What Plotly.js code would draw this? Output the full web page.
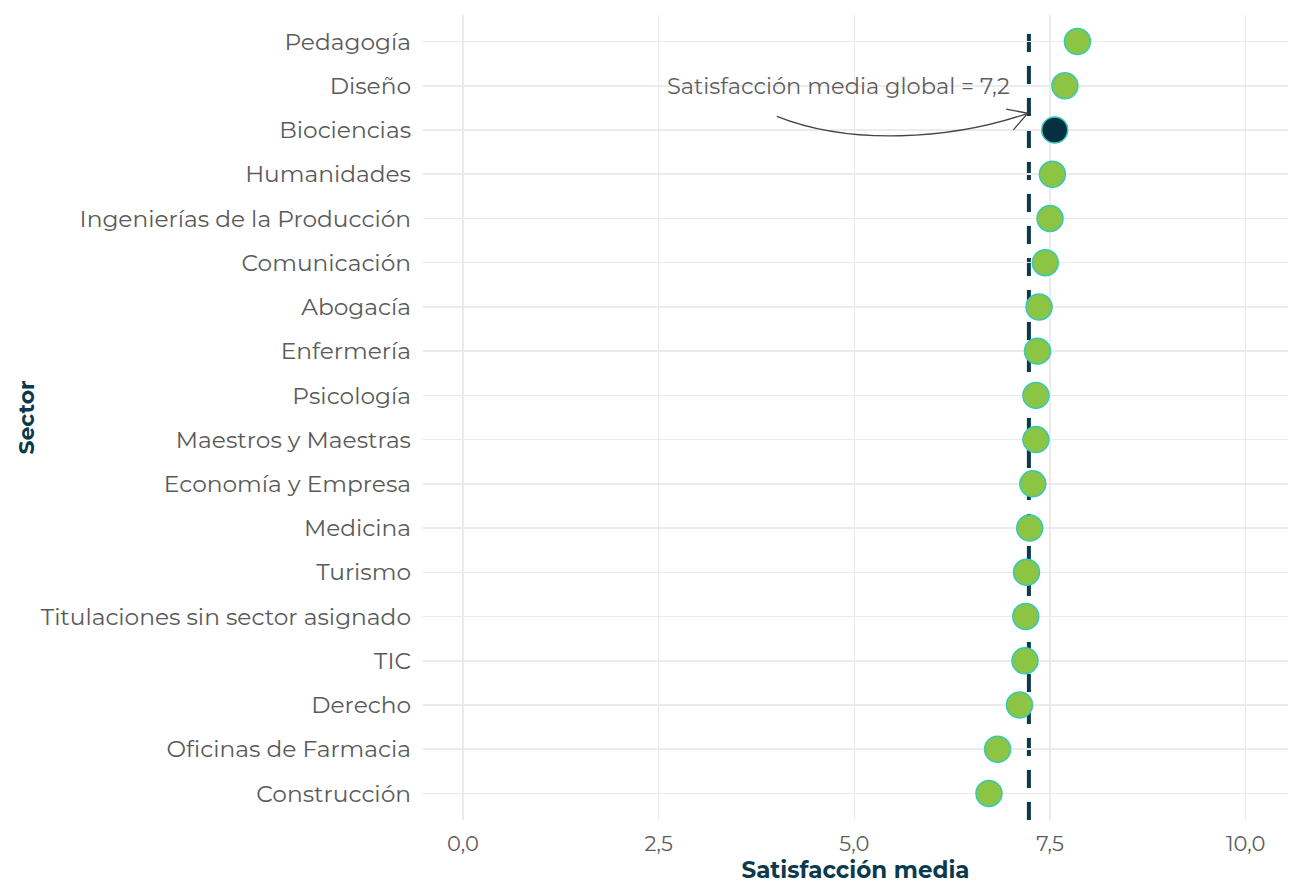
<!DOCTYPE html>
<html>
<head>
<meta charset="utf-8">
<script src="https://cdn.plot.ly/plotly-3.0.1.min.js"></script>
<style>html,body{margin:0;padding:0;background:#fff;}#chart{width:1289px;height:884px;}</style>
</head>
<body>
<div id="chart"></div>
<script>
// Data (top to bottom as shown)
const sectors = ["Pedagogía","Diseño","Biociencias","Humanidades","Ingenierías de la Producción","Comunicación","Abogacía","Enfermería","Psicología","Maestros y Maestras","Economía y Empresa","Medicina","Turismo","Titulaciones sin sector asignado","TIC","Derecho","Oficinas de Farmacia","Construcción"];
const satisfaction = [7.85,7.69,7.56,7.53,7.50,7.44,7.36,7.34,7.32,7.32,7.28,7.24,7.20,7.19,7.18,7.11,6.83,6.72];
const highlighted = "Biociencias";
const globalMean = 7.23;
const globalLabel = "Satisfacción media global = 7,2";
const xTickVals = [0,2.5,5,7.5,10];
const xTickText = ["0,0","2,5","5,0","7,5","10,0"];

const n = sectors.length;
const yPos = sectors.map((s,i)=> n-1-i);

const green = "#8cc443", dark = "#06303f", outline = "#36c9b8";
const fillColors = sectors.map(s => s===highlighted ? dark : green);

const font = "Montserrat, 'DejaVu Sans', sans-serif";

const trace = {
  type: "scatter", mode: "markers",
  x: satisfaction, y: yPos,
  marker: {size: 26, color: fillColors, line: {color: outline, width: 1.5}},
  hoverinfo: "skip", showlegend: false, cliponaxis: false
};

const bioIdx = n-1-sectors.indexOf(highlighted);
const arrowY = bioIdx + 0.31;
const layout = {
  width: 1289, height: 884,
  margin: {l: 423, r: 1, t: 15, b: 64},
  paper_bgcolor: "#fff", plot_bgcolor: "#fff",
  font: {family: font, color: "#4d4d4d", size: 16},
  xaxis: {
    range: [-0.51, 10.54], tickvals: xTickVals, ticktext: xTickText,
    showgrid: true, gridcolor: "#ebebeb", gridwidth: 1.5, zeroline: false,
    showline: false, ticks: "", ticklabelstandoff: 9,
    tickfont: {family: font, size: 21, color: "#5e5e5e"},
    title: {text: "<b>Satisfacción media</b>", font: {family: font, size: 23, color: "#0b3a4c"}, standoff: 4}
  },
  yaxis: {
    range: [-0.6, n-0.4], tickvals: yPos, ticktext: sectors,
    showgrid: true, gridcolor: "#ebebeb", gridwidth: 1.5, zeroline: false,
    showline: false, ticks: "", ticklabelstandoff: 11,
    tickfont: {family: font, size: 23.3, color: "#5a5a5a"},
    title: {text: "<b>Sector</b>", font: {family: font, size: 22, color: "#0b3a4c"}, standoff: 0}
  },
  shapes: [
    {type: "line", xref: "x", yref: "paper", x0: globalMean, x1: globalMean, y0: 0, y1: 0.99,
     line: {color: "#0b3a4c", width: 4, dash: "18px,14px"}, layer: "below"},
    {type: "path", xref: "x", yref: "y",
     path: `M 4.01 ${arrowY} C 4.94 ${bioIdx-0.344} 6.22 ${bioIdx-0.231} 7.216 ${bioIdx+0.378}`,
     line: {color: "#444", width: 1.3}},
    {type: "path", xref: "x", yref: "y",
     path: `M 7.032 ${bioIdx+0.003} L 7.216 ${bioIdx+0.378} L 6.94 ${bioIdx+0.472}`,
     line: {color: "#444", width: 1.3}}
  ],
  annotations: [
    {x: 7.01, y: n-2, xref: "x", yref: "y", text: globalLabel, showarrow: false,
     xanchor: "right", yanchor: "middle", font: {family: font, size: 22.5, color: "#5e5e5e"}}
  ]
};

Plotly.newPlot("chart", [trace], layout, {displayModeBar: false, staticPlot: true});
</script>
</body>
</html>
